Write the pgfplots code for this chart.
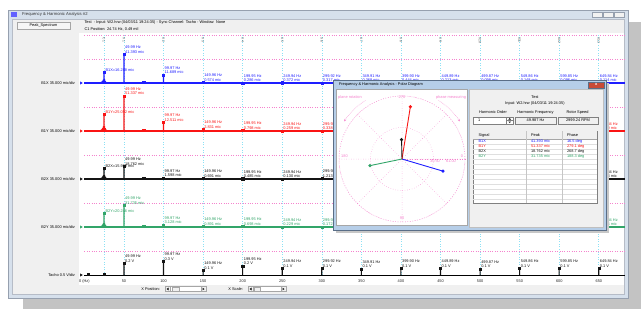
\documentclass[border=0pt]{standalone}
\usepackage{pgfplots}
\usepackage{pgfplotstable}
\pgfplotsset{compat=1.18}
\usepgfplotslibrary{polar}
\usetikzlibrary{arrows.meta}
\usepackage{fontspec}
\setmainfont{Liberation Sans}
\definecolor{tblue}{RGB}{30,30,255}
\definecolor{tred}{RGB}{250,20,20}
\definecolor{tgreen}{RGB}{50,165,105}
\definecolor{tblack}{RGB}{20,20,20}
\definecolor{gpink}{RGB}{245,130,205}
\definecolor{gcyan}{RGB}{140,225,245}
\definecolor{wingray}{RGB}{240,240,240}
\definecolor{winframe}{RGB}{214,224,236}
\definecolor{winborder}{RGB}{150,160,175}
\definecolor{shadowgray}{RGB}{195,195,195}
\definecolor{dlgframe}{RGB}{182,206,232}
\definecolor{dlgborder}{RGB}{90,110,135}
\newcommand{\sm}{\fontsize{3.9}{4.6}\selectfont}
\tikzset{lab/.style={anchor=south west,inner sep=0pt,xshift=1pt,yshift=0.8pt,align=left,font=\sm}}
\newcommand{\hm}[3]{\node[lab,text=#3] at (axis cs:#1,#2) {#1 Hz\\#2 mic};}
\newcommand{\hv}[3]{\node[lab,text=tblack] at (axis cs:#1,#2) {#1 Hz\\#3};}
\newcommand{\cl}[3]{\node[anchor=south west,inner sep=0pt,xshift=1.4pt,yshift=0.3pt,text=#3,font=\sm] at (axis cs:24.74,#2) {#1=#2 mic};}
\pgfplotsset{
  trace/.style={anchor=south west, scale only axis, width=540.6pt, height=48pt,
    xmin=0, xmax=683, ymin=0, hide axis, clip=false},
  spk/.style={ybar, bar width=1.1pt, bar shift=0pt, draw=none, fill=#1},
  mk/.style={only marks, mark=square*, mark size=1.05pt, color=#1},
  nz/.style={ybar, bar width=0.95pt, bar shift=0pt, draw=none, fill=#1},
  bl/.style={color=#1, line width=1.1pt, no marks},
}
\pgfplotstableread{
f a
24.74 16.288
49.99 41.393
74.98 1.3
99.97 11.689
149.96 0.574
199.95 0.286
249.94 0.372
299.92 0.317
349.91 0.368
399.90 0.444
449.89 0.213
499.87 0.098
549.86 0.148
599.85 0.096
649.84 0.114
}\tbonex
\pgfplotstableread{
f a
24.74 25.052
49.99 51.337
74.98 1.6
99.97 12.511
149.96 2.831
199.95 0.798
249.94 0.259
299.92 0.338
349.91 0.215
399.90 0.187
449.89 0.152
499.87 0.121
549.86 0.108
599.85 0.094
649.84 0.130
}\tboney
\pgfplotstableread{
f a
24.74 15.932
49.99 18.762
74.98 0.9
99.97 1.598
149.96 0.691
199.95 0.485
249.94 0.130
299.92 1.213
349.91 0.205
399.90 0.174
449.89 0.110
499.87 0.090
549.86 0.085
599.85 0.071
649.84 0.053
}\tbtwox
\pgfplotstableread{
f a
24.74 20.246
49.99 31.735
74.98 1.2
99.97 3.128
149.96 0.891
199.95 0.698
249.94 0.229
299.92 0.172
349.91 0.160
399.90 0.141
449.89 0.120
499.87 0.101
549.86 0.090
599.85 0.080
649.84 0.065
}\tbtwoy
\pgfplotstableread{
f a
4.5 0.02
24.74 0.02
49.99 0.249
99.97 0.29
149.96 0.10
199.95 0.19
249.94 0.14
299.92 0.14
349.91 0.13
399.90 0.14
449.89 0.14
499.87 0.13
549.86 0.14
599.85 0.14
649.84 0.14
}\ttacho
\begin{document}
\begin{tikzpicture}[x=1pt,y=1pt]
\useasboundingbox (0,0) rectangle (641,309);
\fill[white] (0,0) rectangle (641,309);
% shadow
\fill[shadowgray] (23,0) rectangle (641,11);
\fill[shadowgray] (628,0) rectangle (641,287);
% window
\filldraw[fill=winframe, draw=winborder, line width=0.5pt] (8,11) rectangle (628,299);
\fill[wingray] (12,15) rectangle (624,289.5);
\draw[winborder!70, line width=0.3pt] (12,15) rectangle (624,289.5);
\fill[tblue!70!white] (11,292.5) rectangle (17,297.5);
\node[anchor=west, font=\fontsize{4.2}{5}\selectfont, text=black!80] at (18.5,294.8) {Frequency \& Harmonic Analysis \#2};
\foreach \xa in {592,603,614}{\filldraw[fill=white!90!gray, draw=winborder, line width=0.3pt] (\xa,292.3) rectangle ++(10,4.6);}
% left button
\filldraw[fill=white!93!gray, draw=gray!70, line width=0.3pt] (17,280) rectangle (70,287);
\node[font=\sm] at (43.5,283.5) {Peak\_Spectrum};
% header
\node[anchor=west, font=\sm] at (81,286.3) {Test \ - Input: W2.hrw (04/03/11 19:24:35) - Sync Channel: Tacho - Window: None};
\node[anchor=west, font=\sm] at (81,279.5) {C1 Position: 24.74 Hz, 0.49 mil};
% plot region
\fill[white] (79,24) rectangle (623.5,276);
% bottom controls
\node[anchor=east, font=\sm] at (163.5,20) {X Position:};
\filldraw[fill=white, draw=gray!70, line width=0.3pt] (165,17.5) rectangle (206,22.5);
\filldraw[fill=wingray, draw=gray!70, line width=0.3pt] (165,17.5) rectangle (170,22.5);
\filldraw[fill=wingray, draw=gray!70, line width=0.3pt] (201,17.5) rectangle (206,22.5);
\filldraw[fill=wingray, draw=gray!70, line width=0.3pt] (172,17.8) rectangle (179,22.2);
\fill[black] (166.5,20) -- (168.5,21.3) -- (168.5,18.7) -- cycle;
\fill[black] (204.5,20) -- (202.5,21.3) -- (202.5,18.7) -- cycle;
\node[anchor=east, font=\sm] at (246.5,20) {X Scale:};
\filldraw[fill=white, draw=gray!70, line width=0.3pt] (248,17.5) rectangle (286,22.5);
\filldraw[fill=wingray, draw=gray!70, line width=0.3pt] (248,17.5) rectangle (253,22.5);
\filldraw[fill=wingray, draw=gray!70, line width=0.3pt] (281,17.5) rectangle (286,22.5);
\filldraw[fill=wingray, draw=gray!70, line width=0.3pt] (254,17.8) rectangle (260,22.2);
\fill[black] (249.5,20) -- (251.5,21.3) -- (251.5,18.7) -- cycle;
\fill[black] (284.5,20) -- (282.5,21.3) -- (282.5,18.7) -- cycle;

% ===== framework axis =====
\begin{axis}[
  at={(84.4pt,34pt)}, anchor=south west,
  scale only axis, width=540.6pt, height=240pt,
  xmin=0, xmax=683, ymin=0, ymax=240,
  clip=false,
  axis x line=bottom, axis y line=left,
  x axis line style={-, black, line width=0.8pt},
  y axis line style={draw=none},
  tick style={draw=none},
  xtick={0,50,...,650},
  xticklabels={0 (Hz),50,100,150,200,250,300,350,400,450,500,550,600,650},
  xticklabel style={font=\sm, text=black!85, yshift=1.2pt},
  ytick={24,72,120,168,216,240},
  yticklabels={},
  ymajorgrids,
  major grid style={gpink, dotted, line width=0.55pt},
  extra x ticks={24.74,49.99,99.97,149.96,199.95,249.94,299.92,349.91,399.90,449.89,499.87,549.86,599.85,649.84},
  extra x tick labels={},
  extra x tick style={xmajorgrids=true, major grid style={gcyan, dotted, line width=0.55pt}},
]
\node[anchor=east, font=\sm] at (axis cs:-7.5,192) {B1X 35.000 mic/div};
\node[anchor=east, font=\sm] at (axis cs:-7.5,144) {B1Y 35.000 mic/div};
\node[anchor=east, font=\sm] at (axis cs:-7.5,96) {B2X 35.000 mic/div};
\node[anchor=east, font=\sm] at (axis cs:-7.5,48) {B2Y 35.000 mic/div};
\node[anchor=east, font=\sm] at (axis cs:-7.5,0) {Tacho 0.5 V/div};
\addplot[only marks, mark=triangle*, mark size=1.3pt, mark options={rotate=-90}, tblue] coordinates {(-4.3,192)};
\addplot[only marks, mark=triangle*, mark size=1.3pt, mark options={rotate=-90}, tred] coordinates {(-4.3,144)};
\addplot[only marks, mark=triangle*, mark size=1.3pt, mark options={rotate=-90}, tblack] coordinates {(-4.3,96)};
\addplot[only marks, mark=triangle*, mark size=1.3pt, mark options={rotate=-90}, tgreen] coordinates {(-4.3,48)};
\addplot[only marks, mark=triangle*, mark size=1.3pt, mark options={rotate=-90}, tblack] coordinates {(-4.3,0)};
\node[rotate=-90, font=\fontsize{3.3}{4}\selectfont, text=black!70] at (axis cs:24.74,235) {C1};
\node[rotate=-90, font=\fontsize{3.3}{4}\selectfont, text=black!70] at (axis cs:49.99,235) {X1};
\node[rotate=-90, font=\fontsize{3.3}{4}\selectfont, text=black!70] at (axis cs:99.97,235) {X2};
\node[rotate=-90, font=\fontsize{3.3}{4}\selectfont, text=black!70] at (axis cs:149.96,235) {X3};
\node[rotate=-90, font=\fontsize{3.3}{4}\selectfont, text=black!70] at (axis cs:199.95,235) {X4};
\node[rotate=-90, font=\fontsize{3.3}{4}\selectfont, text=black!70] at (axis cs:249.94,235) {X5};
\node[rotate=-90, font=\fontsize{3.3}{4}\selectfont, text=black!70] at (axis cs:299.92,235) {X6};
\node[rotate=-90, font=\fontsize{3.3}{4}\selectfont, text=black!70] at (axis cs:349.91,235) {X7};
\node[rotate=-90, font=\fontsize{3.3}{4}\selectfont, text=black!70] at (axis cs:399.90,235) {X8};
\node[rotate=-90, font=\fontsize{3.3}{4}\selectfont, text=black!70] at (axis cs:449.89,235) {X9};
\node[rotate=-90, font=\fontsize{3.3}{4}\selectfont, text=black!70] at (axis cs:499.87,235) {X10};
\node[rotate=-90, font=\fontsize{3.3}{4}\selectfont, text=black!70] at (axis cs:549.86,235) {X11};
\node[rotate=-90, font=\fontsize{3.3}{4}\selectfont, text=black!70] at (axis cs:599.85,235) {X12};
\node[rotate=-90, font=\fontsize{3.3}{4}\selectfont, text=black!70] at (axis cs:649.84,235) {X13};
\end{axis}

% ===== B1X =====
\begin{axis}[trace, at={(84.4pt,226pt)}, ymax=70]
\addplot[bl=tblue] coordinates {(0,0)(683,0)};
\addplot[nz=tblue] coordinates {(19,0.6)(20,1.0)(21,1.5)(22,2.2)(23,3.4)(24,5.2)(25.5,5.6)(26.5,3.2)(27.5,1.8)(28.5,1.0)(29.5,0.6)};
\addplot[spk=tblue] table[x=f,y=a] {\tbonex};
\addplot[mk=tblue] table[x=f,y=a] {\tbonex};
\cl{B1X}{16.288}{tblue}
\hm{49.99}{41.393}{tblue}
\hm{99.97}{11.689}{tblue}
\hm{149.96}{0.574}{tblue}
\hm{199.95}{0.286}{tblue}
\hm{249.94}{0.372}{tblue}
\hm{299.92}{0.317}{tblue}
\hm{349.91}{0.368}{tblue}
\hm{399.90}{0.444}{tblue}
\hm{449.89}{0.213}{tblue}
\hm{499.87}{0.098}{tblue}
\hm{549.86}{0.148}{tblue}
\hm{599.85}{0.096}{tblue}
\hm{649.84}{0.114}{tblue}
\end{axis}

% ===== B1Y =====
\begin{axis}[trace, at={(84.4pt,178pt)}, ymax=70]
\addplot[bl=tred] coordinates {(0,0)(683,0)};
\addplot[nz=tred] coordinates {(19,0.8)(20,1.3)(21,2.0)(22,3.0)(23,4.6)(24,7.0)(25.5,7.5)(26.5,4.2)(27.5,2.3)(28.5,1.2)(29.5,0.7)};
\addplot[spk=tred] table[x=f,y=a] {\tboney};
\addplot[mk=tred] table[x=f,y=a] {\tboney};
\cl{B1Y}{25.052}{tred}
\hm{49.99}{51.337}{tred}
\hm{99.97}{12.511}{tred}
\hm{149.96}{2.831}{tred}
\hm{199.95}{0.798}{tred}
\hm{249.94}{0.259}{tred}
\hm{299.92}{0.338}{tred}
\hm{649.84}{0.130}{tred}
\end{axis}

% ===== B2X =====
\begin{axis}[trace, at={(84.4pt,130pt)}, ymax=70]
\addplot[bl=tblack] coordinates {(0,0)(683,0)};
\addplot[nz=tblack] coordinates {(19,0.6)(20,1.0)(21,1.6)(22,2.4)(23,3.8)(24,5.6)(25.5,6.0)(26.5,3.4)(27.5,1.9)(28.5,1.0)(29.5,0.6)};
\addplot[spk=tblack] table[x=f,y=a] {\tbtwox};
\addplot[mk=tblack] table[x=f,y=a] {\tbtwox};
\cl{B2X}{15.932}{tblack}
\hm{49.99}{18.762}{tblack}
\hm{99.97}{1.598}{tblack}
\hm{149.96}{0.691}{tblack}
\hm{199.95}{0.485}{tblack}
\hm{249.94}{0.130}{tblack}
\hm{299.92}{1.213}{tblack}
\hm{649.84}{0.053}{tblack}
\end{axis}

% ===== B2Y =====
\begin{axis}[trace, at={(84.4pt,82pt)}, ymax=70]
\addplot[bl=tgreen] coordinates {(0,0)(683,0)};
\addplot[nz=tgreen] coordinates {(19,0.6)(20,1.0)(21,1.6)(22,2.4)(23,3.8)(24,5.8)(25.5,6.2)(26.5,3.5)(27.5,1.9)(28.5,1.0)(29.5,0.6)};
\addplot[spk=tgreen] table[x=f,y=a] {\tbtwoy};
\addplot[mk=tgreen] table[x=f,y=a] {\tbtwoy};
\cl{B2Y}{20.246}{tgreen}
\hm{49.99}{31.735}{tgreen}
\hm{99.97}{3.128}{tgreen}
\hm{149.96}{0.891}{tgreen}
\hm{199.95}{0.698}{tgreen}
\hm{249.94}{0.229}{tgreen}
\hm{299.92}{0.172}{tgreen}
\hm{649.84}{0.065}{tgreen}
\end{axis}

% ===== Tacho =====
\begin{axis}[trace, at={(84.4pt,34pt)}, ymax=1]
\addplot[spk=tblack] table[x=f,y=a] {\ttacho};
\addplot[mk=tblack] table[x=f,y=a] {\ttacho};
\hv{49.99}{0.249}{0.2 V}
\hv{99.97}{0.29}{0.3 V}
\hv{149.96}{0.10}{0.1 V}
\hv{199.95}{0.19}{0.2 V}
\hv{249.94}{0.14}{0.1 V}
\hv{299.92}{0.14}{0.1 V}
\hv{349.91}{0.13}{0.1 V}
\hv{399.90}{0.14}{0.1 V}
\hv{449.89}{0.14}{0.1 V}
\hv{499.87}{0.13}{0.1 V}
\hv{549.86}{0.14}{0.1 V}
\hv{599.85}{0.14}{0.1 V}
\hv{649.84}{0.14}{0.1 V}
\end{axis}

% ===== Polar dialog =====
\fill[black!22] (335.5,76.5) rectangle (608.5,226.5);
\filldraw[fill=dlgframe, draw=dlgborder, line width=0.5pt] (333,79) rectangle (606,228.5);
\node[anchor=west, font=\sm] at (335.5,224.5) {Frequency \& Harmonic Analysis - Polar Diagram};
\filldraw[fill={rgb,255:red,200;green,75;blue,55}, draw=dlgborder, line width=0.3pt] (588.5,221.3) rectangle (604,227.3);
\node[font=\fontsize{4}{4}\selectfont\bfseries, text=white] at (596.2,224.3) {x};
\filldraw[fill=white, draw=gray!70, line width=0.4pt] (336,84) rectangle (467,219.5);
\filldraw[fill=wingray, draw=gray!50, line width=0.3pt] (469,82) rectangle (603.5,219.5);

\begin{polaraxis}[
  at={(402pt,150pt)}, anchor=origin,
  scale only axis, width=126pt, height=126pt,
  ymin=0, ymax=61,
  xtick={0,45,...,315}, ytick={30.5,61},
  xticklabels={}, yticklabels={},
  grid=major,
  major grid style={gpink, dotted, line width=0.5pt},
  axis line style={gpink, dotted, line width=0.5pt},
  tick style={draw=none},
  clip=false,
]
\addplot[tblue, line width=0.9pt, mark=*, mark size=1.1pt, mark indices={2}, x filter/.expression={-x}] coordinates {(0,0) (16.5,41.393)};
\addplot[tred, line width=0.9pt, mark=*, mark size=1.1pt, mark indices={2}, x filter/.expression={-x}] coordinates {(0,0) (279.1,51.337)};
\addplot[tblack, line width=0.9pt, mark=*, mark size=1.1pt, mark indices={2}, x filter/.expression={-x}] coordinates {(0,0) (268.7,18.762)};
\addplot[tgreen, line width=0.9pt, mark=*, mark size=1.1pt, mark indices={2}, x filter/.expression={-x}] coordinates {(0,0) (168.3,31.735)};
\end{polaraxis}
\node[font=\sm, text=gpink] at (402,211.5) {270};
\node[font=\sm, text=gpink] at (344.5,153) {180};
\node[font=\sm, text=gpink] at (462,153) {0};
\node[font=\sm, text=gpink] at (402,91) {90};
\node[font=\sm, text=gpink] at (435,148) {30.50};
\node[font=\sm, text=gpink] at (451,148) {61.00};
\node[font=\sm, text=gpink] at (350,212) {plane rotation};
\node[font=\sm, text=gpink] at (451,212) {phase measuring};
\draw[gpink, densely dotted, line width=0.5pt, -{Stealth[length=2.5pt,width=2pt]}] ([shift={(122:69)}]402,150) arc (122:147:69);
\draw[gpink, densely dotted, line width=0.5pt, -{Stealth[length=2.5pt,width=2pt]}] ([shift={(58:69)}]402,150) arc (58:33:69);

% right panel
\node[font=\sm] at (535,212) {Test};
\node[font=\sm] at (535,206) {Input: W2.hrw (04/03/11 19:24:35)};
\node[font=\sm] at (493,197) {Harmonic Order};
\node[font=\sm] at (535.5,197) {Harmonic Frequency};
\node[font=\sm] at (577.5,197) {Rotor Speed};
\filldraw[fill=white, draw=gray, line width=0.3pt] (473,185) rectangle (513,192);
\node[anchor=west, font=\sm] at (474.5,188.5) {1};
\draw[gray, line width=0.3pt] (506.5,185) -- (506.5,192) (506.5,188.5) -- (513,188.5);
\fill[black] (508.3,189.5) -- (511.2,189.5) -- (509.75,191) -- cycle;
\fill[black] (508.3,187.5) -- (511.2,187.5) -- (509.75,186) -- cycle;
\filldraw[fill=wingray, draw=gray, line width=0.3pt] (515,185) rectangle (556,192);
\node[font=\sm] at (535.5,188.5) {49.987 Hz};
\filldraw[fill=wingray, draw=gray, line width=0.3pt] (558,185) rectangle (598,192);
\node[font=\sm] at (578,188.5) {2999.24 RPM};
% table
\filldraw[fill=white, draw=gray, line width=0.4pt] (473,106) rectangle (597,178);
\fill[wingray] (473.3,170) rectangle (596.7,177.7);
\draw[gray!70, line width=0.3pt] (473,170) -- (597,170);
\foreach \yy in {165,160,...,110} {\draw[gray!25, line width=0.25pt] (473.3,\yy) -- (596.7,\yy);}
\draw[gray!45, line width=0.3pt] (526,106) -- (526,178) (562,106) -- (562,178);
\node[anchor=west, font=\sm] at (475,174) {Signal};
\node[anchor=west, font=\sm] at (527.5,174) {Peak};
\node[anchor=west, font=\sm] at (563.5,174) {Phase};
\node[anchor=west, font=\sm, text=tblue] at (475,167.5) {B1X};
\node[anchor=west, font=\sm, text=tblue] at (527.5,167.5) {41.393 mic};
\node[anchor=west, font=\sm, text=tblue] at (563.5,167.5) {16.5 deg};
\node[anchor=west, font=\sm, text=tred] at (475,162.5) {B1Y};
\node[anchor=west, font=\sm, text=tred] at (527.5,162.5) {51.337 mic};
\node[anchor=west, font=\sm, text=tred] at (563.5,162.5) {279.1 deg};
\node[anchor=west, font=\sm, text=tblack] at (475,157.5) {B2X};
\node[anchor=west, font=\sm, text=tblack] at (527.5,157.5) {18.762 mic};
\node[anchor=west, font=\sm, text=tblack] at (563.5,157.5) {268.7 deg};
\node[anchor=west, font=\sm, text=tgreen] at (475,152.5) {B2Y};
\node[anchor=west, font=\sm, text=tgreen] at (527.5,152.5) {31.735 mic};
\node[anchor=west, font=\sm, text=tgreen] at (563.5,152.5) {188.3 deg};
\end{tikzpicture}
\end{document}
